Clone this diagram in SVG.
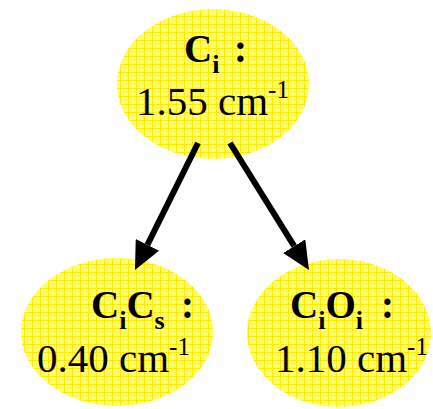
<svg xmlns="http://www.w3.org/2000/svg" width="433" height="409" viewBox="0 0 433 409">
  <defs>
    <pattern id="grid" patternUnits="userSpaceOnUse" width="8" height="8">
      <rect width="8" height="8" fill="#FFFF6E"/>
      <path d="M0,0.5 H8 M0.5,0 V8" stroke="#FFE800" stroke-width="1.2" fill="none"/>
      <path d="M4,0 V8 M0,4 H8" stroke="#FFF45A" stroke-width="0.6" fill="none"/>
    </pattern>
    <marker id="arrow" markerUnits="userSpaceOnUse" viewBox="0 0 28 26" refX="0" refY="13" markerWidth="28" markerHeight="26" orient="auto">
      <path d="M0,0 L28,13 L0,26 Z" fill="#000"/>
    </marker>
  </defs>
  <style>
    .node ellipse { fill: url(#grid); stroke: none; }
    .lbl { font-family: "Liberation Serif", "Times New Roman", serif; fill: #000; }
    .b { font-weight: bold; font-size: 39px; }
    .r { font-size: 41px; }
    .sub { font-size: 26px; font-weight: bold; }
    .sup { font-size: 25px; }
    .edge { stroke: #000; stroke-width: 6; fill: none; marker-end: url(#arrow); }
  </style>

  <g id="node-ci" class="node">
    <ellipse cx="213" cy="84" rx="96" ry="75"/>
    <text class="lbl b" x="184" y="62">C<tspan class="sub" dy="11">i</tspan><tspan dy="-11" x="234">:</tspan></text>
    <text class="lbl r" x="136" y="115">1.55 cm<tspan class="sup" dy="-17">-1</tspan></text>
  </g>

  <g id="node-cics" class="node">
    <ellipse cx="117" cy="332" rx="96" ry="74"/>
    <text class="lbl b" x="91" y="318">C<tspan class="sub" dy="11">i</tspan><tspan dy="-11">C</tspan><tspan class="sub" dy="11">s</tspan><tspan dy="-11" x="181">:</tspan></text>
    <text class="lbl r" x="37" y="372">0.40 cm<tspan class="sup" dy="-17">-1</tspan></text>
  </g>

  <g id="node-cioi" class="node">
    <ellipse cx="339" cy="333" rx="92" ry="74"/>
    <text class="lbl b" x="290" y="318">C<tspan class="sub" dy="11">i</tspan><tspan dy="-11">O</tspan><tspan class="sub" dy="11">i</tspan><tspan dy="-11" x="381">:</tspan></text>
    <text class="lbl r" x="275" y="372">1.10 cm<tspan class="sup" dy="-17">-1</tspan></text>
  </g>

  <g id="connectors">
    <line class="edge" x1="198" y1="143" x2="147.4" y2="244.9"/>
    <line class="edge" x1="230" y1="143" x2="294.2" y2="246.2"/>
  </g>
</svg>
